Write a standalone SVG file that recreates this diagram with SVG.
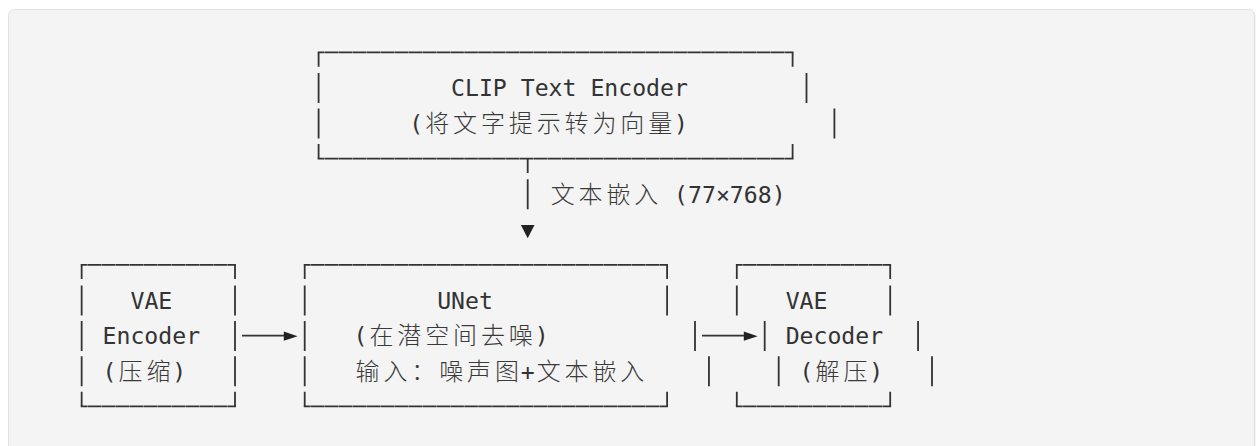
<svg xmlns="http://www.w3.org/2000/svg" width="1260" height="446" viewBox="0 0 1260 446">
  <style>
    .ln { stroke: #333; stroke-width: 1.8; fill: none; }
    .hz { stroke: #333; stroke-width: 1.8; fill: none; stroke-dasharray: 13.59 0.35; stroke-dashoffset: 6.8; }
    .head { fill: #222; }
    text { fill: #333; font-family: "DejaVu Sans Mono", "Liberation Mono", monospace; font-size: 23.15px; }
    .cjk { font-family: "Noto Sans CJK SC", "Noto Sans CJK JP", sans-serif; font-size: 24px; font-weight: 300; fill: #3a3a3a; }
  </style>

  <!-- page and code panel -->
  <rect x="0" y="0" width="1260" height="446" fill="#ffffff"/>
  <rect x="9" y="10" width="1246" height="470" rx="6" fill="none" stroke="#ececec" stroke-width="1"/>
  <rect x="8.5" y="9.5" width="1246" height="470" rx="6" fill="#f4f4f4" stroke="#e1e1e1" stroke-width="1"/>

  <!-- CLIP text encoder -->
  <g id="clip-encoder">
    <line class="hz" x1="317.7" y1="52.4" x2="793.5" y2="52.4"/>
    <line class="hz" x1="317.7" y1="158.6" x2="793.5" y2="158.6"/>
    <path class="ln" d="M318.6,52.4V66.7 M792.6,52.4V66.7
                        M318.6,73.1V103.1 M806.5,73.1V103.1
                        M318.6,108.5V138.5 M834.4,108.5V138.5
                        M318.6,143.9V158.6 M792.6,143.9V158.6"/>
    <text x="451.08" y="96.4">CLIP Text Encoder</text>
    <text y="131.8"><tspan x="409.26">(</tspan><tspan class="cjk" x="425.2 453.08 480.96 508.84 536.72 564.6 592.48 620.36 648.24">将文字提示转为向量</tspan><tspan x="674.12">)</tspan></text>
  </g>

  <!-- VAE encoder -->
  <g id="vae-encoder">
    <line class="hz" x1="80.75" y1="264.8" x2="235.9" y2="264.8"/>
    <line class="hz" x1="80.75" y1="406.4" x2="235.9" y2="406.4"/>
    <path class="ln" d="M81.65,264.8V279.1 M235,264.8V279.1
                        M81.65,285.5V315.5 M235,285.5V315.5
                        M81.65,320.9V350.9 M235,320.9V350.9
                        M81.65,356.3V386.3 M235,356.3V386.3
                        M81.65,391.7V406.4 M235,391.7V406.4"/>
    <text x="130.46" y="308.8">VAE</text>
    <text x="102.58" y="344.2">Encoder</text>
    <text y="379.6"><tspan x="102.58">(</tspan><tspan class="cjk" x="118.52 146.4">压缩</tspan><tspan x="172.28">)</tspan></text>
  </g>

  <!-- UNet -->
  <g id="unet">
    <line class="hz" x1="303.8" y1="264.8" x2="668" y2="264.8"/>
    <line class="hz" x1="303.8" y1="406.4" x2="668" y2="406.4"/>
    <path class="ln" d="M304.7,264.8V279.1 M667.1,264.8V279.1
                        M304.7,285.5V315.5 M667.1,285.5V315.5
                        M304.7,320.9V350.9 M695,320.9V350.9
                        M304.7,356.3V386.3 M708.95,356.3V386.3
                        M304.7,391.7V406.4 M667.1,391.7V406.4"/>
    <text x="437.14" y="308.8">UNet</text>
    <text y="344.2"><tspan x="353.5">(</tspan><tspan class="cjk" x="369.44 397.32 425.2 453.08 480.96 508.84">在潜空间去噪</tspan><tspan x="534.72">)</tspan></text>
    <text y="379.6"><tspan class="cjk" x="355.5 383.38 411.26 439.14 467.02 494.9">输入：噪声图</tspan><tspan x="520.78">+</tspan><tspan class="cjk" x="536.72 564.6 592.48 620.36">文本嵌入</tspan></text>
  </g>

  <!-- VAE decoder -->
  <g id="vae-decoder">
    <line class="hz" x1="735.9" y1="264.8" x2="891.1" y2="264.8"/>
    <line class="hz" x1="735.9" y1="406.4" x2="891.1" y2="406.4"/>
    <path class="ln" d="M736.8,264.8V279.1 M890.2,264.8V279.1
                        M736.8,285.5V315.5 M890.2,285.5V315.5
                        M764.7,320.9V350.9 M918.05,320.9V350.9
                        M778.7,356.3V386.3 M932,356.3V386.3
                        M736.8,391.7V406.4 M890.2,391.7V406.4"/>
    <text x="785.64" y="308.8">VAE</text>
    <text x="785.64" y="344.2">Decoder</text>
    <text y="379.6"><tspan x="799.58">(</tspan><tspan class="cjk" x="815.52 843.4">解压</tspan><tspan x="869.28">)</tspan></text>
  </g>

  <!-- connectors -->
  <g id="connectors">
    <!-- text embedding: CLIP down into UNet -->
    <path class="ln" d="M527.7,158.6V172.9 M527.7,179.3V209.3"/>
    <polygon class="head" points="520.9,225 534.5,225 527.7,238.3"/>
    <text y="202.6"><tspan class="cjk" x="550.66 578.54 606.42 634.3">文本嵌入</tspan><tspan x="674.12">(77×768)</tspan></text>
    <!-- encoder to UNet -->
    <line class="ln" x1="242" y1="335.6" x2="285" y2="335.6"/>
    <polygon class="head" points="283.8,331.6 297.6,336.2 283.8,340.8"/>
    <!-- UNet to decoder -->
    <line class="ln" x1="702" y1="335.6" x2="745" y2="335.6"/>
    <polygon class="head" points="743.8,331.6 757.6,336.2 743.8,340.8"/>
  </g>
</svg>
